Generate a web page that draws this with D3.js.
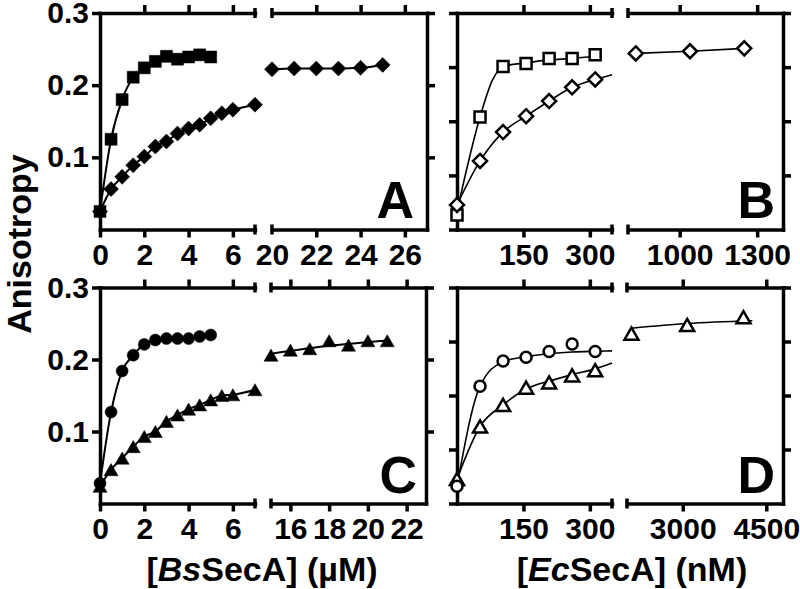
<!DOCTYPE html>
<html>
<head>
<meta charset="utf-8">
<script src="https://cdn.jsdelivr.net/npm/d3@7"></script>
<style>
body { margin: 0; background: #fff; }
svg { display: block; }
</style>
</head>
<body>
<script>
// ---- values ----
// BsSecA concentrations (uM)
var bsConc = [0, 0.5, 1, 1.5, 2, 2.5, 3, 3.5, 4, 4.5, 5];
var bsConcLong = [0, 0.5, 1, 1.5, 2, 2.5, 3, 3.5, 4, 4.5, 5, 5.5, 6, 7];
var aHighConc = [20, 21, 22, 23, 24, 25];
var cHighConc = [15, 16, 17, 18, 19, 20, 21];

// panel A
var aSquare = [0.025, 0.125, 0.180, 0.211, 0.224, 0.233, 0.240, 0.236, 0.239, 0.242, 0.239];
var aDiamond = [0.025, 0.056, 0.073, 0.089, 0.101, 0.115, 0.122, 0.133, 0.140, 0.145, 0.154, 0.161, 0.166, 0.173];
var aDiamondHigh = [0.222, 0.223, 0.223, 0.223, 0.224, 0.228];

// panel C
var cCircle = [0.028, 0.127, 0.184, 0.206, 0.221, 0.227, 0.229, 0.229, 0.229, 0.232, 0.234];
var cTriangle = [0.024, 0.047, 0.063, 0.079, 0.093, 0.100, 0.114, 0.123, 0.131, 0.137, 0.144, 0.150, 0.151, 0.158];
var cTriangleHigh = [0.206, 0.213, 0.215, 0.226, 0.220, 0.226, 0.226];
var cTriangleHighFitX = [15, 18, 21];
var cTriangleHighFitY = [0.208, 0.219, 0.2265];

// EcSecA concentrations (nM)
var ecConc = [0, 52, 104, 156, 208, 260, 312];
var bHighConc = [830, 1040, 1250];
var dHighConc = [2080, 3080, 4090];

// panel B
var bSquare = [0.020, 0.156, 0.226, 0.230, 0.237, 0.237, 0.242];
var bSquareFitX = [0, 52, 80, 104, 156, 208, 260, 312];
var bSquareFitY = [0.025, 0.156, 0.207, 0.226, 0.231, 0.235, 0.237, 0.240];
var bDiamond = [0.034, 0.095, 0.135, 0.157, 0.178, 0.197, 0.208];
var bDiamondFitX = [0, 52, 104, 156, 208, 260, 312, 350];
var bDiamondFitY = [0.034, 0.095, 0.135, 0.157, 0.178, 0.197, 0.208, 0.2145];
var bDiamondHigh = [0.244, 0.247, 0.251];

// panel D
var dCircle = [0.024, 0.163, 0.198, 0.203, 0.211, 0.2215, 0.211];
var dCircleFitX = [0, 52, 104, 156, 208, 260, 312, 350];
var dCircleFitY = [0.024, 0.163, 0.197, 0.204, 0.208, 0.2105, 0.2115, 0.212];
var dTriangle = [0.034, 0.107, 0.137, 0.161, 0.168, 0.178, 0.185];
var dTriangleFitX = [0, 52, 104, 156, 208, 260, 312, 350];
var dTriangleFitY = [0.034, 0.107, 0.137, 0.159, 0.170, 0.179, 0.187, 0.195];
var dTriangleHigh = [0.236, 0.248, 0.2586];
var dTriangleHighFitX = [2080, 3080, 4250];
var dTriangleHighFitY = [0.2435, 0.250, 0.2538];

var width = 800,
    height = 589,
    font = "'Liberation Sans', Arial, sans-serif";

var svg = d3.select("body").append("svg")
    .attr("width", width)
    .attr("height", height);

var yTop = d3.scaleLinear().domain([0, 0.3]).range([229.5, 13]);
var yBot = d3.scaleLinear().domain([0, 0.3]).range([503.5, 287.5]);

function zip(xs, ys) { return xs.map(function(x, i) { return [x, ys[i]]; }); }

function markerPath(shape, s) {
  if (shape === "square") return "M" + (-s/2) + "," + (-s/2) + "h" + s + "v" + s + "h" + (-s) + "Z";
  if (shape === "diamond") return "M0," + (-s) + "L" + s + ",0L0," + s + "L" + (-s) + ",0Z";
  if (shape === "triangle") { var h = s * 0.866; return "M0," + (-h/2) + "L" + (s/2) + "," + (h/2) + "L" + (-s/2) + "," + (h/2) + "Z"; }
  // circle
  return "M" + s + ",0A" + s + "," + s + " 0 1,1 " + (-s) + ",0A" + s + "," + s + " 0 1,1 " + s + ",0Z";
}

var panels = [
  { y: yTop, letter: "A", lx: 414, ly: 218, leftTicks: [0.1, 0.2, 0.3], rightTicks: [0.1, 0.2, 0.3], labels: true, lw: 2,
    segs: [
      { x: d3.scaleLinear().domain([0, 7]).range([100, 255]), bottom: [0, 2, 4, 6], top: [2, 4, 6],
        series: [
          { x: bsConc, y: aSquare, shape: "square", size: 12, open: false },
          { x: bsConcLong, y: aDiamond, shape: "diamond", size: 7.5, open: false }
        ] },
      { x: d3.scaleLinear().domain([20, 27]).range([272, 427]), bottom: [20, 22, 24, 26], top: [22, 24, 26],
        series: [
          { x: aHighConc, y: aDiamondHigh, shape: "diamond", size: 7.5, open: false }
        ] }
    ] },
  { y: yTop, letter: "B", lx: 775, ly: 218, leftTicks: [0, 0.075, 0.15, 0.225, 0.3], rightTicks: [0.075, 0.15, 0.225, 0.3], labels: false, lw: 1.6,
    segs: [
      { x: d3.scaleLinear().domain([0, 350]).range([457, 612]), bottom: [150, 300], top: [150, 300],
        series: [
          { x: ecConc, y: bSquare, fx: bSquareFitX, fy: bSquareFitY, shape: "square", size: 11, open: true },
          { x: ecConc, y: bDiamond, fx: bDiamondFitX, fy: bDiamondFitY, shape: "diamond", size: 7, open: true }
        ] },
      { x: d3.scaleLinear().domain([800, 1400]).range([628, 783]), bottom: [1000, 1300], top: [1000, 1300],
        series: [
          { x: bHighConc, y: bDiamondHigh, shape: "diamond", size: 7, open: true }
        ] }
    ] },
  { y: yBot, letter: "C", lx: 417, ly: 493, leftTicks: [0.1, 0.2, 0.3], rightTicks: [0.1, 0.2, 0.3], labels: true, lw: 2,
    segs: [
      { x: d3.scaleLinear().domain([0, 7]).range([100, 255]), bottom: [0, 2, 4, 6], top: [2, 4, 6],
        series: [
          { x: bsConc, y: cCircle, shape: "circle", size: 6, open: false },
          { x: bsConcLong, y: cTriangle, shape: "triangle", size: 14, open: false }
        ] },
      { x: d3.scaleLinear().domain([15, 23]).range([271, 426]), bottom: [16, 18, 20, 22], top: [16, 18, 20, 22],
        series: [
          { x: cHighConc, y: cTriangleHigh, fx: cTriangleHighFitX, fy: cTriangleHighFitY, shape: "triangle", size: 14, open: false }
        ] }
    ] },
  { y: yBot, letter: "D", lx: 775, ly: 493, leftTicks: [0, 0.075, 0.15, 0.225, 0.3], rightTicks: [0.075, 0.15, 0.225, 0.3], labels: false, lw: 1.6,
    segs: [
      { x: d3.scaleLinear().domain([0, 350]).range([457, 612]), bottom: [150, 300], top: [150, 300],
        series: [
          { x: ecConc, y: dTriangle, fx: dTriangleFitX, fy: dTriangleFitY, shape: "triangle", size: 14, open: true },
          { x: ecConc, y: dCircle, fx: dCircleFitX, fy: dCircleFitY, shape: "circle", size: 5.5, open: true }
        ] },
      { x: d3.scaleLinear().domain([2000, 4800]).range([627, 783]), bottom: [3000, 4500], top: [3000, 4500],
        series: [
          { x: dHighConc, y: dTriangleHigh, fx: dTriangleHighFitX, fy: dTriangleHighFitY, shape: "triangle", size: 14, open: true }
        ] }
    ] }
];

function styleAxis(g) {
  g.attr("font-family", font).attr("font-weight", "bold").attr("font-size", 30);
  g.select(".domain").attr("stroke", "#000").attr("stroke-width", 3.5).attr("stroke-linecap", "square");
  g.selectAll(".tick line").attr("stroke", "#000").attr("stroke-width", 3.5);
  g.selectAll(".tick text").attr("fill", "#000");
}

function cap(x, y) {
  svg.append("line")
      .attr("x1", x).attr("x2", x)
      .attr("y1", y - 5).attr("y2", y + 5)
      .attr("stroke", "#000").attr("stroke-width", 3.5);
}

panels.forEach(function(p) {
  var y = p.y,
      y0 = y.range()[0],
      y1 = y.range()[1];

  p.segs.forEach(function(seg, si) {
    var x = seg.x;

    // bottom axis with labels
    var gb = svg.append("g")
        .attr("transform", "translate(0," + y0 + ")")
        .call(d3.axisBottom(x).tickValues(seg.bottom).tickSize(8).tickPadding(6).tickSizeOuter(0)
          .tickFormat(d3.format("d")));
    styleAxis(gb);
    if (si === 1) gb.selectAll(".tick line").filter(function(d) { return d === x.domain()[0]; }).remove();

    // top axis, ticks only
    var gt = svg.append("g")
        .attr("transform", "translate(0," + y1 + ")")
        .call(d3.axisTop(x).tickValues(seg.top).tickSize(8).tickSizeOuter(0).tickFormat(""));
    styleAxis(gt);

    // break caps
    if (si === 0) { cap(x.range()[1], y0); cap(x.range()[1], y1); }
    else { cap(x.range()[0], y0); cap(x.range()[0], y1); }

    // vertical axes
    if (si === 0) {
      var gl = svg.append("g")
          .attr("transform", "translate(" + x.range()[0] + ",0)")
          .call(d3.axisLeft(y).tickValues(p.leftTicks).tickSize(8).tickPadding(3).tickSizeOuter(0)
            .tickFormat(p.labels ? d3.format(".1f") : ""));
      styleAxis(gl);
    } else {
      var gr = svg.append("g")
          .attr("transform", "translate(" + x.range()[1] + ",0)")
          .call(d3.axisRight(y).tickValues(p.rightTicks).tickSize(8).tickSizeOuter(0).tickFormat(""));
      styleAxis(gr);
    }

    // fit lines
    var line = d3.line()
        .x(function(d) { return x(d[0]); })
        .y(function(d) { return y(d[1]); })
        .curve(d3.curveMonotoneX);

    seg.series.forEach(function(s) {
      var pts = s.fx ? zip(s.fx, s.fy) : zip(s.x, s.y);
      svg.append("path")
          .datum(pts)
          .attr("d", line)
          .attr("fill", "none")
          .attr("stroke", "#000")
          .attr("stroke-width", p.lw);
    });

    // markers
    seg.series.forEach(function(s) {
      svg.append("g").selectAll("path")
          .data(zip(s.x, s.y))
          .enter().append("path")
          .attr("transform", function(d) { return "translate(" + x(d[0]) + "," + y(d[1]) + ")"; })
          .attr("d", markerPath(s.shape, s.size))
          .attr("fill", s.open ? "#fff" : "#000")
          .attr("stroke", "#000")
          .attr("stroke-width", s.open ? 2.5 : 0.5);
    });
  });

  svg.append("text")
      .attr("x", p.lx)
      .attr("y", p.ly)
      .attr("text-anchor", "end")
      .attr("font-family", font)
      .attr("font-weight", "bold")
      .attr("font-size", 52)
      .text(p.letter);
});

// axis titles
svg.append("text")
    .attr("transform", "translate(31,244)rotate(-90)")
    .attr("text-anchor", "middle")
    .attr("font-family", font)
    .attr("font-weight", "bold")
    .attr("font-size", 34)
    .text("Anisotropy");

function xTitle(cx, italic, rest) {
  var t = svg.append("text")
      .attr("x", cx)
      .attr("y", 581)
      .attr("text-anchor", "middle")
      .attr("font-family", font)
      .attr("font-weight", "bold")
      .attr("font-size", 34);
  t.append("tspan").text("[");
  t.append("tspan").attr("font-style", "italic").text(italic);
  t.append("tspan").text(rest);
}
xTitle(262, "Bs", "SecA] (µM)");
xTitle(632, "Ec", "SecA] (nM)");
</script>
</body>
</html>
